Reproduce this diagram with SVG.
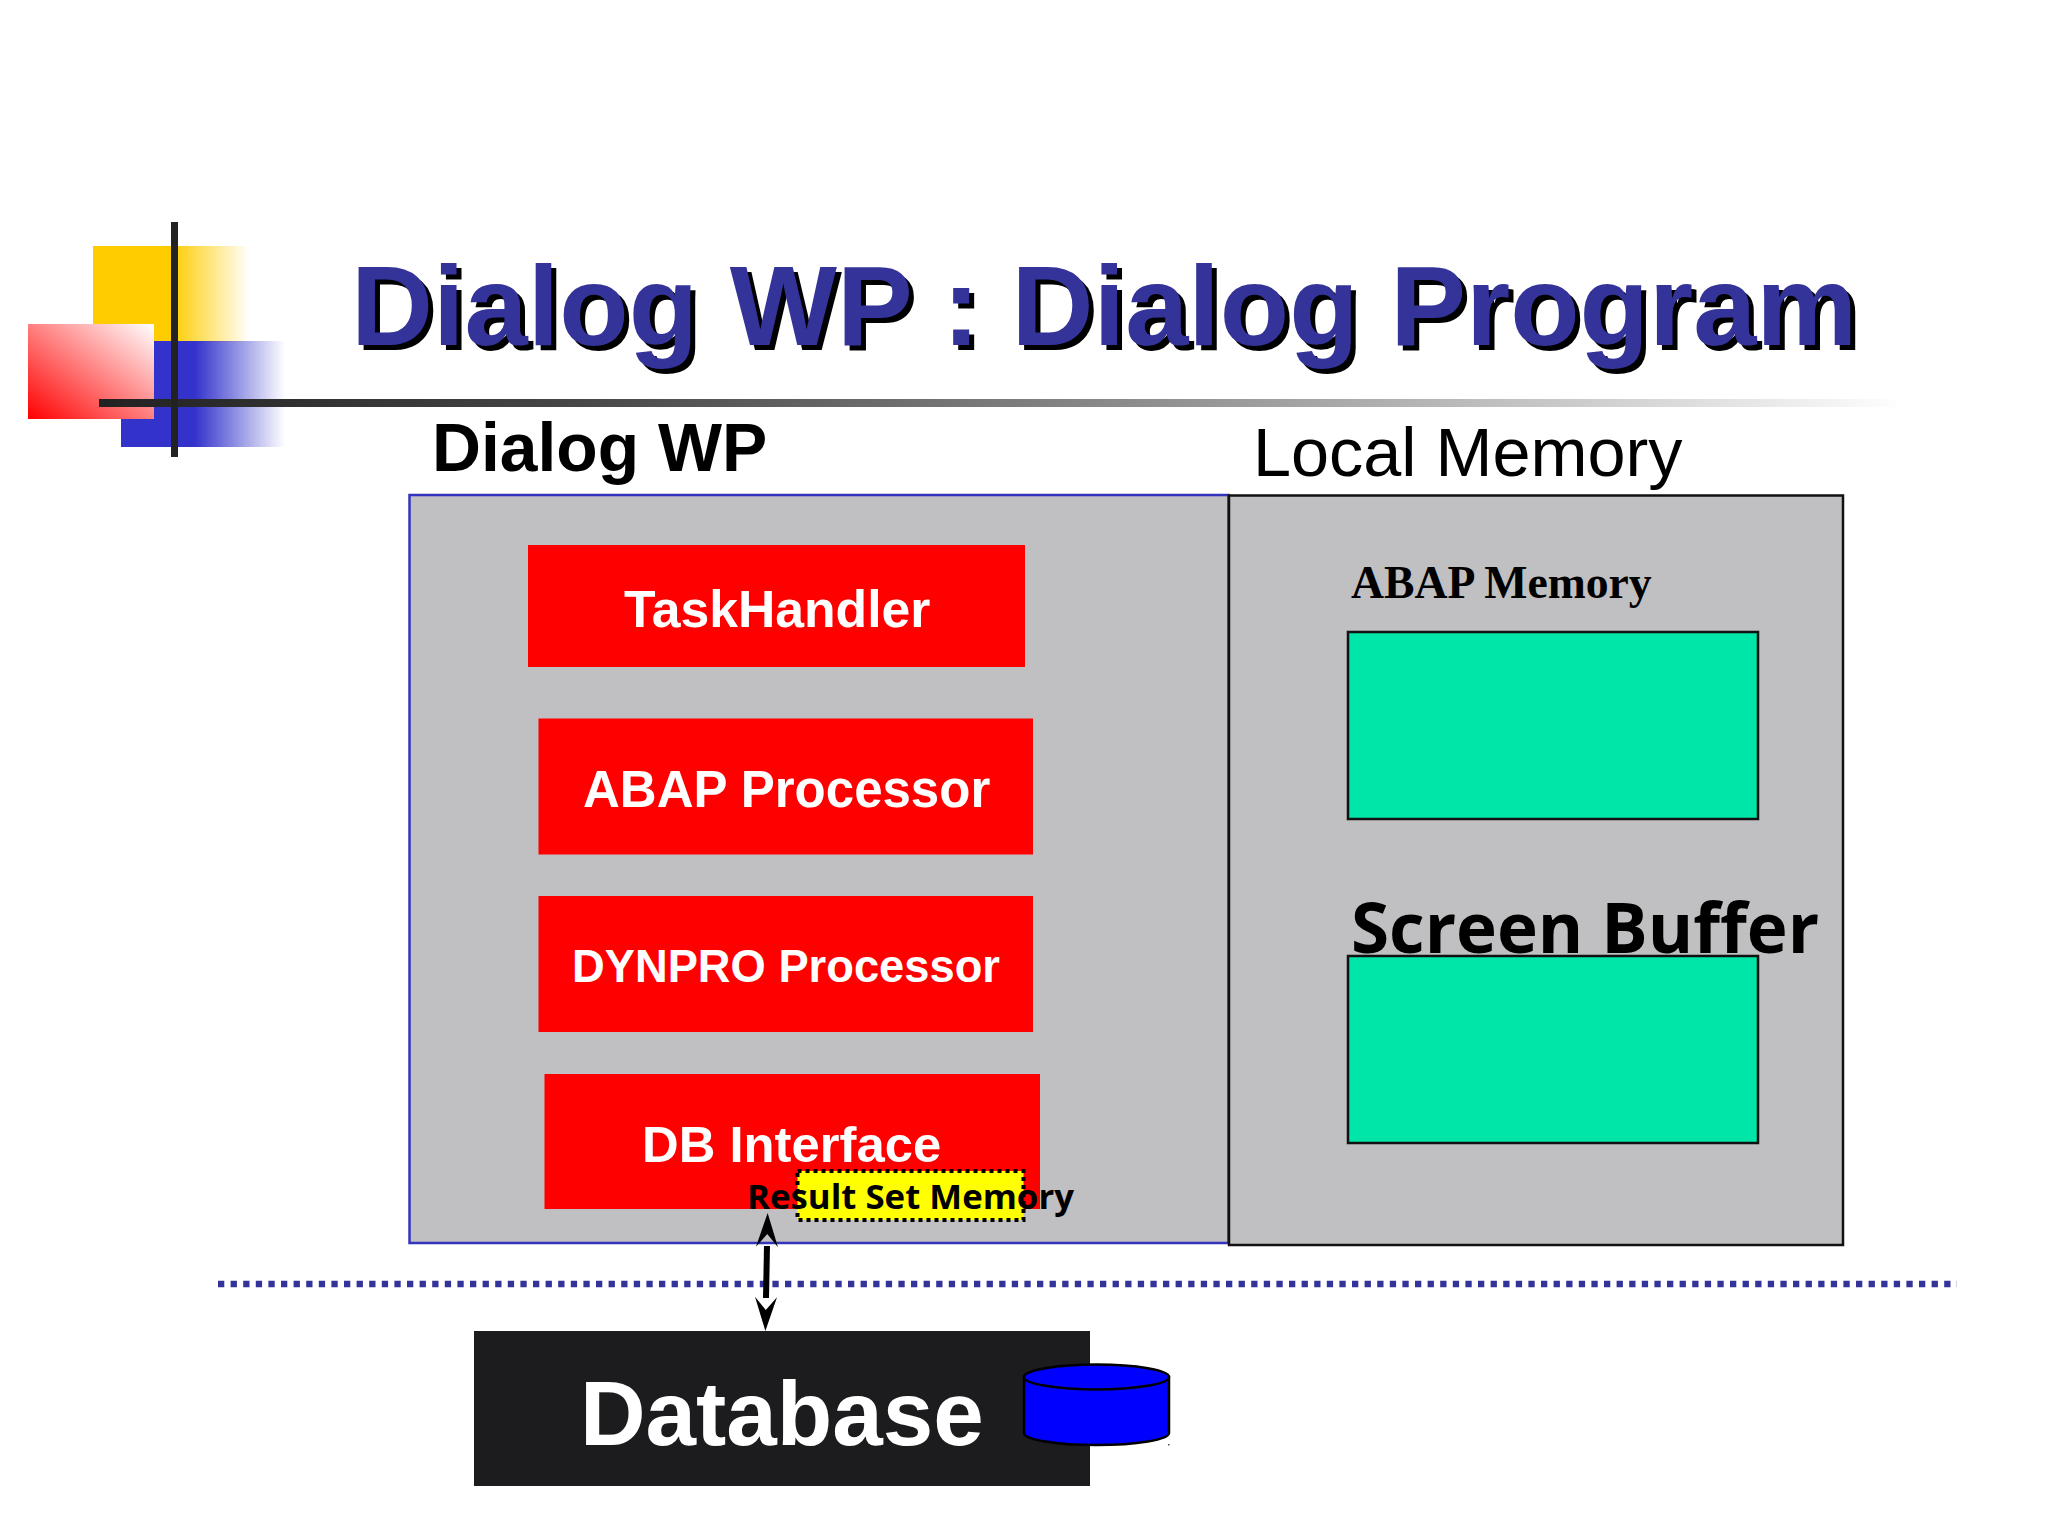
<svg xmlns="http://www.w3.org/2000/svg" width="2048" height="1536" viewBox="0 0 2048 1536">
<style>
text{font-family:"Liberation Sans",Arial,sans-serif}
.b{font-weight:bold}
.w{fill:#fff;font-weight:bold}
.t{font-size:113.6px;font-weight:bold}
.red{fill:#f00}
.green{fill:#00e5a8;stroke:#111;stroke-width:2.5}
.os{font-family:"Open Sans","Noto Sans",sans-serif;font-weight:bold;fill:#000}
</style>
<defs>
<linearGradient id="gy"><stop offset="0.5" stop-color="#fc0"/><stop offset="1" stop-color="#fc0" stop-opacity="0"/></linearGradient>
<linearGradient id="gb"><stop offset="0.45" stop-color="#33c"/><stop offset="1" stop-color="#33c" stop-opacity="0"/></linearGradient>
<linearGradient id="gr" x1="0" y1="1" x2="1" y2="0"><stop offset="0" stop-color="#f00"/><stop offset="1" stop-color="#fff"/></linearGradient>
<linearGradient id="gl"><stop offset="0" stop-color="#222"/><stop offset="0.25" stop-color="#444"/><stop offset="1" stop-color="#222" stop-opacity="0"/></linearGradient>
<marker id="head" markerUnits="userSpaceOnUse" markerWidth="36" markerHeight="24" refX="1" refY="12" orient="auto-start-reverse" viewBox="0 0 36 24">
<path d="M0 1 L34 12 L0 23 L13 12 Z" fill="#000"/>
</marker>
</defs>
<g id="logo">
<rect x="93" y="246" width="157" height="96" fill="url(#gy)"/>
<rect x="121" y="341" width="164" height="106" fill="url(#gb)"/>
<rect x="28" y="324" width="126" height="95" fill="url(#gr)"/>
<rect x="99" y="399" width="1805" height="8" fill="url(#gl)"/>
<rect x="171" y="222" width="7" height="235" fill="#222"/>
</g>
<g id="title">
<text class="t" x="356" y="350" fill="#000">Dialog WP : Dialog Program</text>
<text class="t" x="351" y="345" fill="#333399">Dialog WP : Dialog Program</text>
</g>
<g id="dialog-wp">
<rect x="409.500" y="495" width="819" height="748" fill="#c0bfc1" stroke="#3333bb" stroke-width="2.500"/>
<text class="b" x="432" y="471" font-size="67.800">Dialog WP</text>
</g>
<g id="local-memory">
<rect x="1229" y="495.500" width="614" height="749.500" fill="#c0bfc1" stroke="#111" stroke-width="2.500"/>
<text x="1253" y="476" font-size="68.400">Local Memory</text>
</g>
<g id="task-handler">
<rect class="red" x="528" y="545" width="497" height="122"/>
<text class="w" x="624" y="627" font-size="51.700">TaskHandler</text>
</g>
<g id="abap-processor">
<rect class="red" x="538.500" y="718.500" width="494.500" height="136"/>
<text class="w" x="583" y="807" font-size="51">ABAP Processor</text>
</g>
<g id="dynpro-processor">
<rect class="red" x="538.500" y="896" width="494.500" height="136"/>
<text class="w" x="572" y="982" font-size="45.300">DYNPRO Processor</text>
</g>
<g id="db-interface">
<rect class="red" x="544.500" y="1074" width="495.500" height="135"/>
<text class="w" x="642" y="1162" font-size="50.800">DB Interface</text>
</g>
<g id="result-set-memory">
<rect x="797.500" y="1171" width="226" height="49" fill="#ff0" stroke="#000" stroke-width="4" stroke-dasharray="4 4"/>
<text class="os" x="747" y="1209" font-size="34.800">Result Set Memory</text>
</g>
<g id="abap-memory">
<text x="1351" y="598" font-size="45.700" font-weight="bold" style="font-family:'Liberation Serif',serif">ABAP Memory</text>
<rect class="green" x="1348" y="632" width="410" height="187"/>
</g>
<g id="screen-buffer">
<rect class="green" x="1348" y="956" width="410" height="187"/>
<text class="os" x="1351" y="953" font-size="69.200">Screen Buffer</text>
</g>
<g id="separator">
<line x1="218" y1="1284" x2="1957" y2="1284" stroke="#333399" stroke-width="6.500" stroke-dasharray="6.300 6.300"/>
</g>
<g id="database">
<rect x="474" y="1331" width="616" height="155" fill="#1c1c1e"/>
<text class="w" x="580" y="1445" font-size="90.800">Database</text>
<path d="M1024 1377 V1433 A72.500 12 0 0 0 1169 1433 V1377 Z" fill="#00f" stroke="#000" stroke-width="2.500"/>
<ellipse cx="1096.500" cy="1377" rx="72.500" ry="12.500" fill="#00f" stroke="#000" stroke-width="2.500"/>
<rect x="1168" y="1444" width="1.500" height="1.500" fill="#555"/>
</g>
<g id="connectors">
<line x1="767" y1="1246" x2="766" y2="1298" stroke="#000" stroke-width="6" marker-start="url(#head)" marker-end="url(#head)"/>
</g>
</svg>
